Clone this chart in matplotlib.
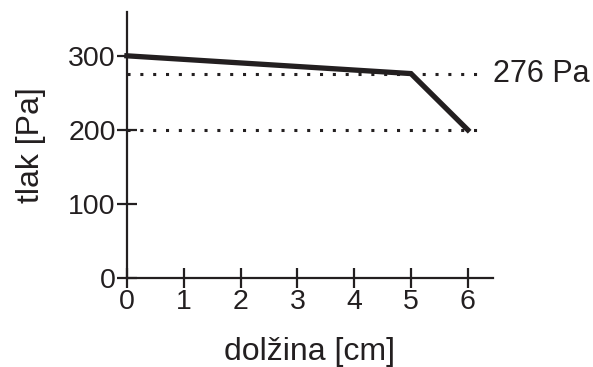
import matplotlib.pyplot as plt

plt.rcParams['font.family'] = ['Liberation Sans', 'DejaVu Sans']

x = [0, 5, 6]
tlak = [300, 276, 200]
ref_levels = [276, 200]
xticks = [0, 1, 2, 3, 4, 5, 6]
yticks = [0, 100, 200, 300]

fig = plt.figure(figsize=(5.93, 3.67), dpi=100)
ax = fig.add_axes([0.214, 0.2425, 0.617, 0.7245])

for lvl in ref_levels:
    ax.plot([0, 6.28], [lvl, lvl], color='#231f20', lw=2.2, linestyle=(0, (1, 3.2)),
            solid_capstyle='butt', clip_on=False)
ax.plot(x, tlak, color='#231f20', lw=3.8, solid_joinstyle='miter', clip_on=False)

ax.text(6.44, 276, '276 Pa', fontsize=22, va='center', ha='left', color='#231f20')

ax.set_xlim(0, 6.44)
ax.set_ylim(0, 359)
ax.set_xticks(xticks)
ax.set_yticks(yticks)
for s in ['top', 'right']:
    ax.spines[s].set_visible(False)
for s in ['left', 'bottom']:
    ax.spines[s].set_linewidth(1.6)
    ax.spines[s].set_color('#231f20')
ax.tick_params(direction='inout', length=14, width=1.6, labelsize=20.5, pad=1,
               colors='#231f20')
ax.set_xlabel('dolžina [cm]', fontsize=23, labelpad=16, color='#231f20')
ax.set_ylabel('tlak [Pa]', fontsize=23, labelpad=16, color='#231f20')

fig.savefig('out.png', dpi=100)
